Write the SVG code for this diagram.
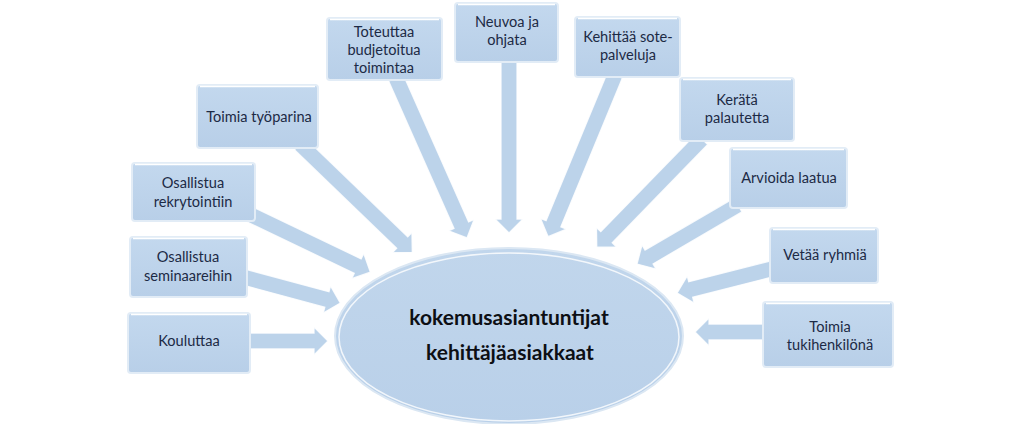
<svg xmlns="http://www.w3.org/2000/svg" width="1023" height="424" viewBox="0 0 1023 424">
<style>
.arrow path{fill:#bcd3ea;stroke:#ffffff;stroke-width:1.3;stroke-opacity:0.85}
.box rect{fill:url(#bg);stroke:#e2ecf6;stroke-width:2}
.box .hl{fill:none;stroke:#ffffff;stroke-width:1.5}
text{font-family:Lato,"Liberation Sans",sans-serif;fill:#1c2a45;text-anchor:middle}
.lbl{font-size:14.6px}
.core{font-size:21px;font-weight:bold;fill:#0d0f14}
</style>
<defs>
<linearGradient id="bg" x1="0" y1="0" x2="0" y2="1">
<stop offset="0" stop-color="#c3d8ee"/>
<stop offset="1" stop-color="#b8cfe8"/>
</linearGradient>
<linearGradient id="eg" x1="0" y1="0" x2="0" y2="1">
<stop offset="0" stop-color="#c1d6ec"/>
<stop offset="1" stop-color="#b9d0e9"/>
</linearGradient>
</defs>
<rect width="1023" height="424" fill="#ffffff"/>
<g id="connectors" class="arrow">
<path transform="translate(240,341)" d="M0,-8H74V-14L88,0L74,14V8H0Z"/>
<path transform="translate(240,276) rotate(15.11)" d="M0,-8H90V-14L104,0L90,14V8H0Z"/>
<path transform="translate(245,212) rotate(25.64)" d="M0,-8H125V-14L139,0L125,14V8H0Z"/>
<path transform="translate(300,144) rotate(43.96)" d="M0,-8H142V-14L156,0L142,14V8H0Z"/>
<path transform="translate(396,78) rotate(66.07)" d="M0,-8H161V-14L175,0L161,14V8H0Z"/>
<path transform="translate(509,60) rotate(90)" d="M0,-8H159V-14L173,0L159,14V8H0Z"/>
<path transform="translate(615,75) rotate(112.47)" d="M0,-8H161V-14L175,0L161,14V8H0Z"/>
<path transform="translate(702,139) rotate(134.19)" d="M0,-8H137V-14L151,0L137,14V8H0Z"/>
<path transform="translate(738,205) rotate(149.7)" d="M0,-8H103V-14L117,0L103,14V8H0Z"/>
<path transform="translate(775,268) rotate(165.69)" d="M0,-8H87V-14L101,0L87,14V8H0Z"/>
<path transform="translate(770,332) rotate(180)" d="M0,-8H61V-14L75,0L61,14V8H0Z"/>
</g>
<g id="center">
<ellipse cx="509" cy="336" rx="174" ry="88" fill="url(#eg)" stroke="#dbe7f3" stroke-width="2"/>
<ellipse cx="509" cy="337" rx="170" ry="84" fill="none" stroke="#ffffff" stroke-width="1.5" stroke-opacity="0.8"/>
<text class="core" x="509" y="325">kokemusasiantuntijat</text>
<text class="core" x="510" y="360">kehittäjäasiakkaat</text>
</g>
<g id="n-kouluttaa" class="box">
<rect x="128" y="313" width="122" height="60" rx="3"/>
<path class="hl" d="M131,314.5H247"/>
<text class="lbl" x="189" y="346">Kouluttaa</text>
</g>
<g id="n-seminaareihin" class="box">
<rect x="130" y="237" width="117" height="60" rx="3"/>
<path class="hl" d="M133,238.5H244"/>
<text class="lbl" x="188" y="262">Osallistua</text>
<text class="lbl" x="188" y="281">seminaareihin</text>
</g>
<g id="n-rekrytointiin" class="box">
<rect x="132" y="163" width="123" height="58" rx="3"/>
<path class="hl" d="M135,164.5H252"/>
<text class="lbl" x="193" y="188">Osallistua</text>
<text class="lbl" x="193" y="207">rekrytointiin</text>
</g>
<g id="n-tyoparina" class="box">
<rect x="197" y="85" width="121" height="63" rx="3"/>
<path class="hl" d="M200,86.5H315"/>
<text class="lbl" x="259" y="122">Toimia työparina</text>
</g>
<g id="n-toteuttaa" class="box">
<rect x="327" y="18" width="115" height="62" rx="3"/>
<path class="hl" d="M330,19.5H439"/>
<text class="lbl" x="384" y="37">Toteuttaa</text>
<text class="lbl" x="384" y="55">budjetoitua</text>
<text class="lbl" x="384" y="73">toimintaa</text>
</g>
<g id="n-neuvoa" class="box">
<rect x="455" y="3" width="103" height="59" rx="3"/>
<path class="hl" d="M458,4.5H555"/>
<text class="lbl" x="507" y="27">Neuvoa ja</text>
<text class="lbl" x="507" y="45">ohjata</text>
</g>
<g id="n-kehittaa" class="box">
<rect x="575" y="17" width="105" height="60" rx="3"/>
<path class="hl" d="M578,18.5H677"/>
<text class="lbl" x="628" y="42">Kehittää sote-</text>
<text class="lbl" x="628" y="60">palveluja</text>
</g>
<g id="n-kerata" class="box">
<rect x="680" y="78" width="114" height="63" rx="3"/>
<path class="hl" d="M683,79.5H791"/>
<text class="lbl" x="737" y="105">Kerätä</text>
<text class="lbl" x="737" y="123">palautetta</text>
</g>
<g id="n-arvioida" class="box">
<rect x="730" y="148" width="117" height="60" rx="3"/>
<path class="hl" d="M733,149.5H844"/>
<text class="lbl" x="789" y="183">Arvioida laatua</text>
</g>
<g id="n-vetaa" class="box">
<rect x="770" y="228" width="108" height="55" rx="3"/>
<path class="hl" d="M773,229.5H875"/>
<text class="lbl" x="825" y="260">Vetää ryhmiä</text>
</g>
<g id="n-tukihenkilo" class="box">
<rect x="763" y="302" width="130" height="65" rx="3"/>
<path class="hl" d="M766,303.5H890"/>
<text class="lbl" x="830" y="332">Toimia</text>
<text class="lbl" x="830" y="350">tukihenkilönä</text>
</g>
</svg>
